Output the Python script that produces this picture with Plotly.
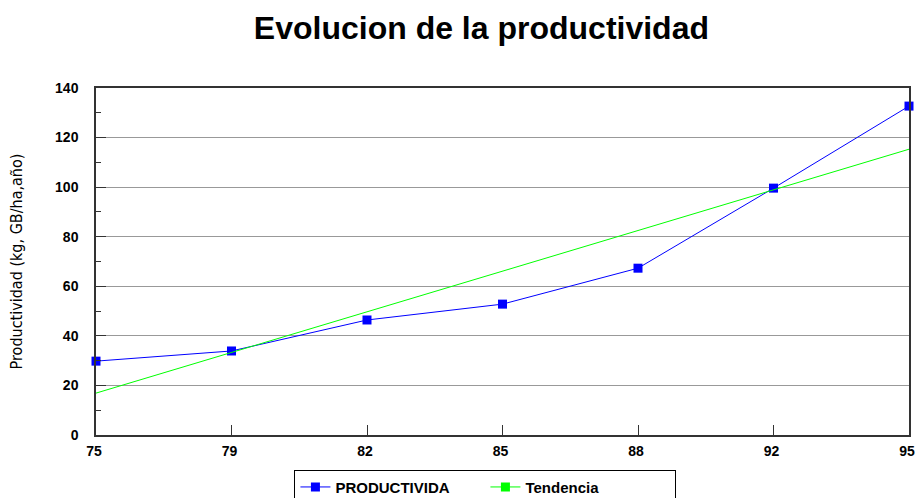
import plotly.graph_objects as go

years = ['75', '79', '82', '85', '88', '92', '95']
productividad = [29.8, 33.9, 46.4, 52.8, 67.3, 99.6, 132.7]
tendencia = [16.9, 33.3, 49.7, 66.1, 82.5, 98.9, 115.3]

x_pos = list(range(len(years)))

fig = go.Figure()
fig.add_trace(go.Scatter(x=x_pos, y=productividad, name='PRODUCTIVIDA',
                         mode='lines+markers',
                         line=dict(color='#0000FF', width=1),
                         marker=dict(symbol='square', size=9, color='#0000FF'),
                         cliponaxis=False))
fig.add_trace(go.Scatter(x=x_pos, y=tendencia, name='Tendencia',
                         mode='lines', showlegend=False,
                         line=dict(color='#00FF00', width=1),
                         cliponaxis=False))
# legend entry for the trend line (square marker like the original)
fig.add_trace(go.Scatter(x=[None], y=[None], name='Tendencia',
                         mode='lines+markers',
                         line=dict(color='#00FF00', width=1),
                         marker=dict(symbol='square', size=9, color='#00FF00')))

fig.update_layout(
    width=917, height=498,
    margin=dict(l=96, r=8, t=88, b=63, autoexpand=False),
    paper_bgcolor='white', plot_bgcolor='white',
    title=dict(text='<b>Evolucion de la productividad</b>', x=0.525, y=1 - 28 / 498,
               xanchor='center', yanchor='middle',
               font=dict(family='Liberation Sans, Arial', size=32, color='black')),
    font=dict(family='Liberation Sans, Arial', color='black'),
    showlegend=True,
    legend=dict(orientation='h', x=0.479, y=-0.1, xanchor='center', yanchor='top',
                bordercolor='black', borderwidth=1, entrywidth=145, itemwidth=30,
                font=dict(size=15, family='Liberation Sans, Arial', weight='bold'),
                tracegroupgap=0),
)
fig.update_xaxes(
    range=[0, 6], tickmode='array', tickvals=x_pos, ticktext=['<b>%s</b>' % y for y in years],
    showgrid=False, zeroline=False, showline=True, linecolor='#333', linewidth=1.5,
    mirror=True, ticks='inside', ticklen=10, tickcolor='#333',
    tickfont=dict(size=14), ticklabelstandoff=2, ticklabelshift=-2, automargin=False,
)
fig.update_yaxes(
    range=[0, 140], tickmode='linear', tick0=0, dtick=20,
    showgrid=True, gridcolor='#999', gridwidth=1, zeroline=False,
    showline=True, linecolor='#333', linewidth=1.5, mirror=True,
    ticks='inside', ticklen=10, tickcolor='#333',
    tickfont=dict(size=14, weight='bold'), ticklabelstandoff=13, automargin=False,
    minor=dict(dtick=10, ticks='inside', ticklen=5, tickcolor='#333', showgrid=False),
    title=dict(text='Productividad (kg, GB/ha,año)', standoff=28,
               font=dict(family='DejaVu Sans Condensed, Liberation Sans Narrow, Arial', size=16)),
)

# drop the default 8px page margin so the figure fills the window exactly
fig.write_html('out.html', config={'displayModeBar': False},
               post_script="document.body.style.margin='0';document.body.style.overflow='hidden';")
